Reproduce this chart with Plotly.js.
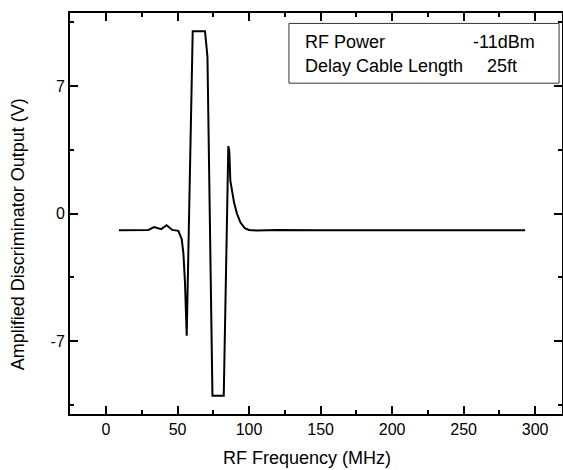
<!DOCTYPE html>
<html>
<head>
<meta charset="utf-8">
<script src="https://cdn.plot.ly/plotly-3.0.1.min.js"></script>
<style>html,body{margin:0;padding:0;background:#fff;}#chart{width:563px;height:470px;}</style>
</head>
<body>
<div id="chart"></div>
<script>
const freqMHz = [9, 20, 29.6, 33.6, 36, 38.5, 42.4, 46.3, 50.6, 52.9, 54.1, 55.2, 56.4, 60.6, 69.2, 70.9, 74.4, 82.3, 85.5, 86.2, 86.9, 88, 89.5, 91.5, 94, 97, 100, 105, 120, 150, 200, 250, 293];
const outputV = [-0.92, -0.92, -0.9, -0.74, -0.8, -0.86, -0.64, -0.9, -0.95, -1.4, -2.2, -3.8, -6.7, 10.0, 10.0, 8.6, -10.0, -10.0, 3.7, 3.4, 1.8, 1.2, 0.6, 0, -0.5, -0.8, -0.9, -0.93, -0.9, -0.92, -0.92, -0.92, -0.92];
const xTickVals = [0, 50, 100, 150, 200, 250, 300];
const yTickVals = [-7, 0, 7];
const yTickText = ["-7", "0", "7"];
const infoLabels = ["RF Power", "Delay Cable Length"];
const infoValues = ["-11dBm", "25ft"];
const xTitle = "RF Frequency (MHz)";
const yTitle = "Amplified Discriminator Output (V)";

const fam = "Liberation Sans, Arial, Helvetica, sans-serif";
const font = {family: fam, size: 16, color: "#000"};
const bigFont = {family: fam, size: 18, color: "#000"};
const axisCommon = {
  showline: true, linecolor: "#000", linewidth: 2, mirror: "allticks",
  ticks: "inside", ticklen: 8, tickwidth: 2, tickcolor: "#000",
  showgrid: false, zeroline: false, tickfont: font,
};
const layout = {
  width: 563, height: 470,
  margin: {l: 70, r: 1, t: 13, b: 56},
  paper_bgcolor: "#fff", plot_bgcolor: "#fff",
  showlegend: false,
  font: font,
  xaxis: Object.assign({}, axisCommon, {
    range: [-25.2, 318.8], tickvals: xTickVals,
    minor: {tickvals: [25, 75, 125, 175, 225, 275], ticklen: 4, tickwidth: 2, tickcolor: "#000", ticks: "inside"},
  }),
  yaxis: Object.assign({}, axisCommon, {
    range: [-11, 11], tickvals: yTickVals, ticktext: yTickText,
    minor: {tickvals: [-10.5, -3.5, 3.5, 10.5], ticklen: 4, tickwidth: 2, tickcolor: "#000", ticks: "inside"},
  }),
  shapes: [{
    type: "rect", xref: "paper", yref: "paper",
    x0: 0.445, x1: 0.994, y0: 0.825, y1: 0.974,
    line: {color: "#333", width: 1}, fillcolor: "rgba(0,0,0,0)",
  }],
  annotations: [
    {xref: "paper", yref: "paper", x: 0.474, y: 0.927, xanchor: "left", yanchor: "middle", text: infoLabels[0], showarrow: false, font: bigFont},
    {xref: "paper", yref: "paper", x: 0.950, y: 0.927, xanchor: "right", yanchor: "middle", text: infoValues[0], showarrow: false, font: bigFont},
    {xref: "paper", yref: "paper", x: 0.474, y: 0.868, xanchor: "left", yanchor: "middle", text: infoLabels[1], showarrow: false, font: bigFont},
    {xref: "paper", yref: "paper", x: 0.843, y: 0.868, xanchor: "left", yanchor: "middle", text: infoValues[1], showarrow: false, font: bigFont},
    {xref: "paper", yref: "paper", x: 0.482, y: -0.110, xanchor: "center", yanchor: "middle", text: xTitle, showarrow: false, font: bigFont},
    {xref: "paper", yref: "paper", x: -0.105, y: 0.449, xanchor: "center", yanchor: "middle", textangle: -90, text: yTitle, showarrow: false, font: bigFont},
  ],
};
Plotly.newPlot("chart", [{
  x: freqMHz, y: outputV, type: "scatter", mode: "lines",
  line: {color: "#000", width: 2},
}], layout, {displayModeBar: false, staticPlot: true});
</script>
</body>
</html>
